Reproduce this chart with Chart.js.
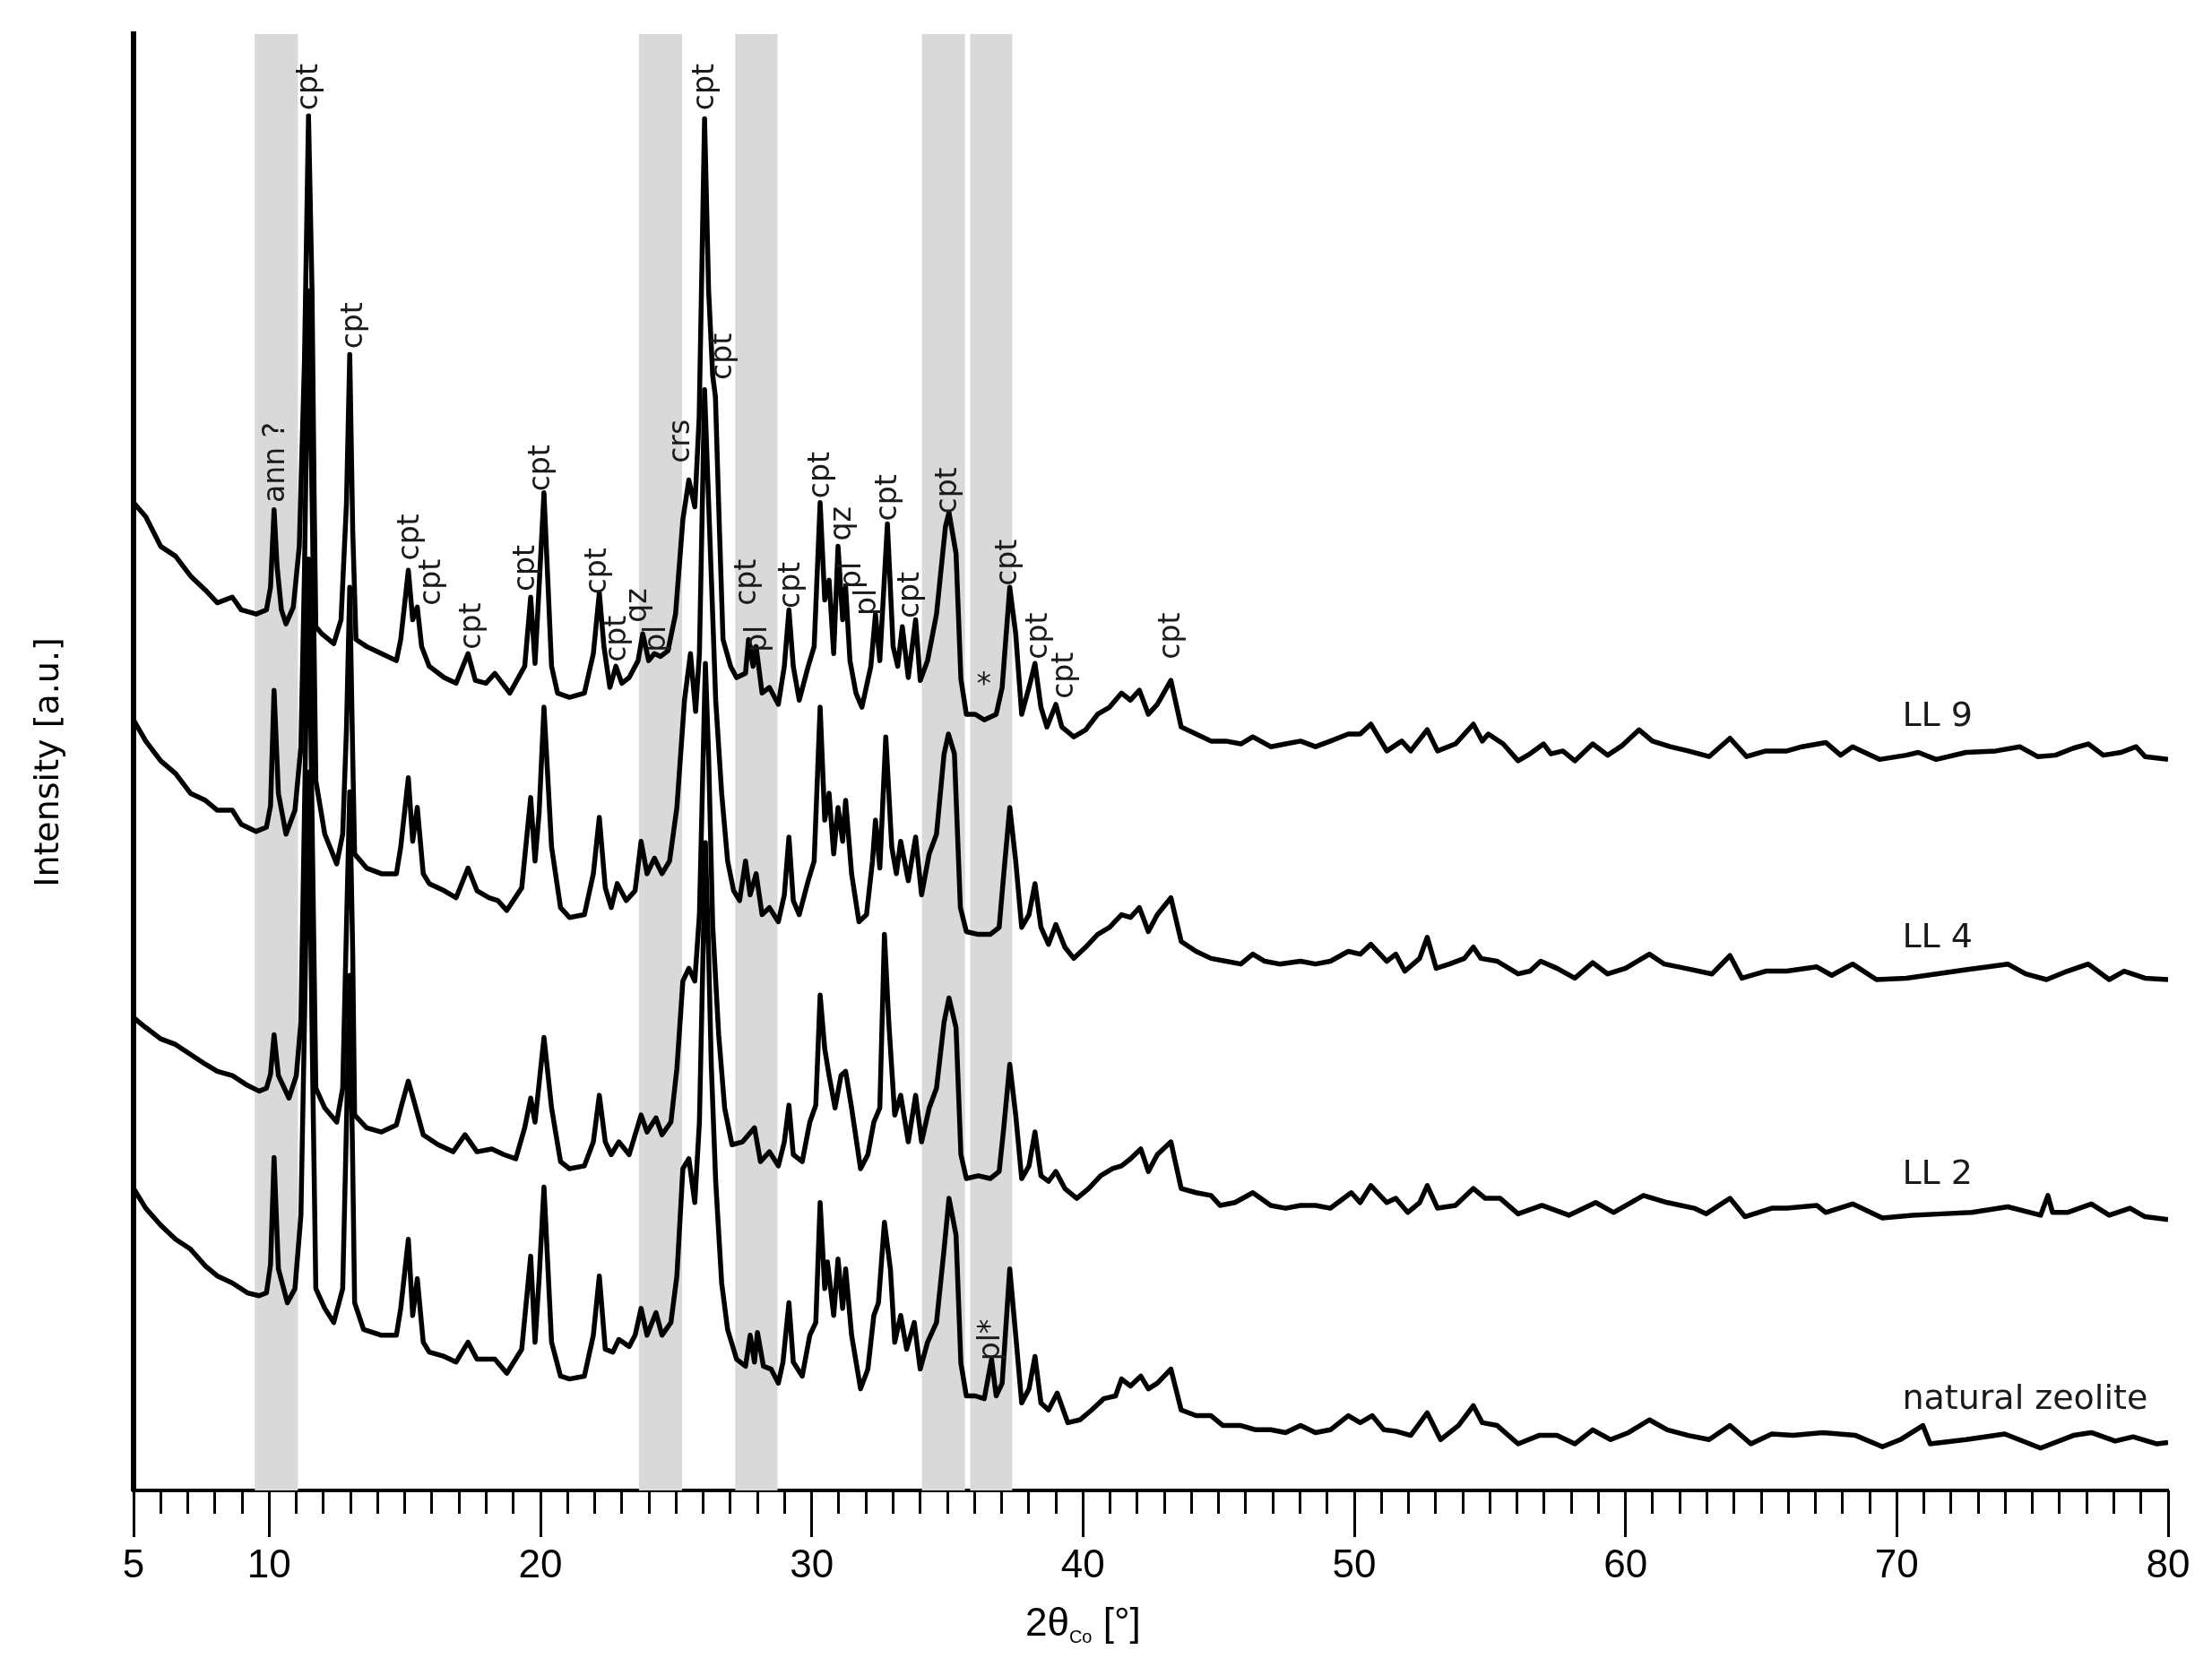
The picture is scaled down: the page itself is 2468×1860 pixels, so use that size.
<!DOCTYPE html>
<html>
<head>
<meta charset="utf-8">
<script src="https://cdn.jsdelivr.net/npm/chart.js@4.4.1/dist/chart.umd.min.js"></script>
<style>
  body { margin: 0; background: #fff; }
</style>
</head>
<body>
<canvas id="xrd" width="2468" height="1860" style="width:2468px;height:1860px"></canvas>
<script>
// 2theta (Co) / intensity (a.u., offset per sample)
const ll9 = [[5.0,700],[5.45,690],[6.0,669],[6.55,662],[7.1,648],[7.65,638],[8.09,629],[8.64,633],[8.97,624],[9.52,621],[9.9,624],[10.05,640],[10.18,695],[10.29,655],[10.45,624],[10.62,614],[10.89,626],[11.11,669],[11.3,800],[11.45,974],[11.58,850],[11.66,700],[11.72,612],[11.94,607],[12.38,600],[12.65,617],[12.85,700],[12.97,805],[13.08,680],[13.2,603],[13.59,598],[14.14,593],[14.69,588],[14.85,603],[15.13,652],[15.29,617],[15.46,626],[15.62,598],[15.9,584],[16.45,576],[16.89,572],[17.33,593],[17.6,574],[17.99,572],[18.32,579],[18.87,565],[19.42,584],[19.64,633],[19.8,586],[19.95,640],[20.13,707],[20.41,584],[20.63,565],[21.07,562],[21.62,565],[21.95,593],[22.17,636],[22.34,598],[22.56,569],[22.78,584],[23.0,572],[23.27,576],[23.6,588],[23.77,607],[23.99,588],[24.2,593],[24.43,591],[24.7,595],[24.98,621],[25.25,688],[25.47,716],[25.69,697],[25.85,760],[26.05,972],[26.2,850],[26.35,790],[26.45,775],[26.6,680],[26.73,603],[27.01,584],[27.23,576],[27.56,579],[27.67,603],[27.84,584],[27.95,598],[28.17,565],[28.44,569],[28.77,557],[28.99,584],[29.16,624],[29.32,584],[29.54,560],[29.87,584],[30.09,598],[30.31,700],[30.48,631],[30.64,645],[30.81,593],[30.97,669],[31.14,617],[31.25,640],[31.41,588],[31.63,565],[31.85,555],[32.18,584],[32.35,621],[32.51,588],[32.79,685],[33.0,598],[33.17,584],[33.34,612],[33.56,576],[33.83,617],[34.0,574],[34.27,588],[34.6,621],[34.93,683],[35.06,693],[35.32,664],[35.5,575],[35.7,550],[36.03,550],[36.36,546],[36.8,550],[37.02,569],[37.3,640],[37.52,607],[37.74,550],[38.01,569],[38.23,586],[38.45,555],[38.67,541],[39.0,557],[39.22,541],[39.66,534],[40.1,539],[40.54,550],[40.98,555],[41.42,565],[41.75,560],[42.08,567],[42.41,550],[42.74,557],[43.24,574],[43.62,541],[44.17,536],[44.72,531],[45.27,531],[45.82,529],[46.26,534],[46.92,527],[47.47,529],[48.02,531],[48.57,527],[49.12,531],[49.78,536],[50.22,536],[50.61,543],[51.2,524],[51.75,531],[52.08,524],[52.69,539],[53.07,524],[53.73,529],[54.39,543],[54.72,531],[54.94,536],[55.49,529],[56.04,517],[56.48,522],[56.98,529],[57.25,522],[57.69,524],[58.13,517],[58.79,529],[59.34,521],[59.89,528],[60.5,539],[60.99,531],[61.65,527],[62.31,524],[63.08,520],[63.85,533],[64.46,520],[65.17,524],[65.95,524],[66.5,527],[67.38,530],[67.93,521],[68.37,527],[69.36,518],[70.35,521],[70.79,523],[71.45,518],[72.55,523],[73.65,524],[74.53,527],[75.19,520],[75.85,521],[76.51,526],[77.06,529],[77.61,521],[78.27,523],[78.82,527],[79.15,520],[80.0,518]];

const ll4 = [[5.0,546],[5.45,531],[6.0,517],[6.55,508],[7.1,494],[7.65,489],[8.09,482],[8.64,482],[8.97,472],[9.52,467],[9.9,470],[10.05,485],[10.18,567],[10.34,494],[10.62,465],[10.95,482],[11.17,527],[11.3,650],[11.45,850],[11.6,680],[11.72,503],[12.05,465],[12.49,444],[12.71,465],[12.85,540],[12.97,640],[13.08,520],[13.15,451],[13.59,441],[14.14,437],[14.69,437],[14.85,456],[15.13,505],[15.29,460],[15.46,484],[15.68,437],[15.9,430],[16.45,425],[16.89,420],[17.33,441],[17.66,425],[18.1,420],[18.43,418],[18.76,411],[19.31,427],[19.64,491],[19.8,446],[19.95,480],[20.13,555],[20.41,456],[20.74,413],[21.07,406],[21.62,408],[21.95,437],[22.17,477],[22.39,427],[22.61,413],[22.83,430],[23.16,418],[23.49,425],[23.71,460],[23.93,437],[24.2,448],[24.48,437],[24.76,446],[25.03,484],[25.31,560],[25.53,593],[25.72,552],[25.86,593],[26.05,780],[26.2,700],[26.35,620],[26.46,560],[26.68,494],[26.9,446],[27.12,425],[27.34,418],[27.56,446],[27.73,422],[27.95,437],[28.17,408],[28.44,413],[28.77,403],[28.99,422],[29.16,463],[29.32,418],[29.54,408],[29.87,432],[30.09,446],[30.31,555],[30.48,475],[30.64,494],[30.81,451],[30.97,484],[31.14,460],[31.25,489],[31.47,437],[31.74,403],[32.02,408],[32.24,446],[32.35,475],[32.51,441],[32.73,534],[32.95,456],[33.12,437],[33.28,460],[33.56,432],[33.83,463],[34.05,422],[34.33,451],[34.6,465],[34.88,522],[35.04,536],[35.26,522],[35.48,413],[35.7,396],[36.14,394],[36.58,394],[36.91,399],[37.08,437],[37.3,484],[37.52,446],[37.74,399],[38.01,408],[38.23,430],[38.45,399],[38.73,387],[39.0,401],[39.33,385],[39.66,377],[40.1,385],[40.54,394],[40.98,399],[41.42,408],[41.75,406],[42.08,413],[42.41,396],[42.74,408],[43.24,420],[43.62,389],[44.17,382],[44.72,377],[45.27,375],[45.82,373],[46.26,380],[46.7,375],[47.25,373],[48.02,375],[48.57,373],[49.12,375],[49.78,382],[50.22,380],[50.61,387],[51.2,375],[51.53,380],[51.86,368],[52.41,377],[52.69,392],[53.02,370],[53.51,373],[54.06,377],[54.39,385],[54.67,377],[55.27,375],[56.04,366],[56.48,368],[56.87,375],[57.47,370],[58.13,363],[58.79,374],[59.34,366],[60.0,370],[60.88,380],[61.43,373],[62.2,370],[63.19,366],[63.85,379],[64.29,363],[65.17,368],[65.95,368],[67.05,371],[67.6,365],[68.37,373],[69.25,362],[70.35,363],[71.45,366],[72.55,369],[74.09,373],[74.75,366],[75.52,362],[76.29,368],[77.06,373],[77.83,362],[78.38,368],[79.15,363],[80.0,362]];

const ll2 = [[5.0,335],[5.45,328],[6.0,320],[6.55,316],[7.1,309],[7.65,302],[8.09,297],[8.64,294],[9.2,287],[9.63,283],[9.9,285],[10.05,295],[10.18,323],[10.34,294],[10.73,278],[11.0,294],[11.17,332],[11.3,480],[11.45,660],[11.6,450],[11.72,285],[12.05,271],[12.49,261],[12.71,285],[12.85,400],[12.97,495],[13.08,380],[13.15,266],[13.59,257],[14.14,254],[14.69,259],[14.91,275],[15.13,290],[15.35,275],[15.68,252],[16.23,245],[16.78,240],[17.22,252],[17.66,240],[18.21,242],[18.65,238],[19.09,235],[19.42,257],[19.64,278],[19.8,261],[20.13,321],[20.41,271],[20.74,233],[21.07,228],[21.62,230],[21.95,247],[22.17,280],[22.39,247],[22.61,238],[22.89,247],[23.27,238],[23.49,252],[23.71,266],[23.93,254],[24.26,264],[24.48,252],[24.81,261],[25.03,299],[25.25,361],[25.47,370],[25.69,361],[25.86,408],[26.08,586],[26.2,520],[26.35,400],[26.57,323],[26.79,271],[27.06,245],[27.45,247],[27.89,257],[28.11,233],[28.44,240],[28.77,230],[28.99,247],[29.16,273],[29.32,238],[29.65,233],[29.93,261],[30.15,273],[30.31,351],[30.48,313],[30.64,294],[30.86,271],[31.08,294],[31.25,297],[31.47,271],[31.8,228],[32.07,238],[32.29,261],[32.51,271],[32.68,394],[32.84,332],[33.06,266],[33.28,280],[33.56,247],[33.83,280],[34.05,247],[34.33,271],[34.6,285],[34.88,332],[35.06,349],[35.32,328],[35.5,238],[35.7,221],[36.14,223],[36.58,221],[36.91,226],[37.08,257],[37.3,302],[37.52,266],[37.74,221],[38.01,230],[38.23,254],[38.45,223],[38.73,219],[39.0,226],[39.33,214],[39.77,207],[40.21,214],[40.65,223],[41.09,228],[41.42,230],[41.75,235],[42.13,242],[42.41,226],[42.74,238],[43.24,247],[43.62,214],[44.17,211],[44.72,209],[45.05,202],[45.6,204],[46.26,211],[46.92,202],[47.47,200],[48.02,202],[48.57,202],[49.12,200],[49.89,211],[50.22,204],[50.61,216],[51.2,204],[51.53,207],[51.97,197],[52.41,204],[52.69,216],[53.07,200],[53.73,202],[54.39,214],[54.83,207],[55.38,207],[56.04,196],[56.92,202],[57.91,195],[58.9,204],[59.56,197],[60.66,209],[61.54,204],[62.53,200],[62.97,196],[63.85,207],[64.4,194],[65.39,200],[65.95,200],[67.05,202],[67.38,197],[68.37,203],[69.47,193],[70.57,195],[71.67,196],[72.77,197],[74.09,201],[75.3,195],[75.57,209],[75.74,197],[76.29,197],[77.17,203],[77.83,195],[78.6,200],[79.15,194],[80.0,192]];

const naturalZeolite = [[5.0,214],[5.45,200],[6.0,188],[6.55,178],[7.1,171],[7.65,159],[8.09,152],[8.64,147],[9.2,140],[9.63,138],[9.9,140],[10.05,160],[10.18,236],[10.34,157],[10.67,133],[10.95,143],[11.17,195],[11.3,330],[11.45,509],[11.6,300],[11.72,143],[12.05,129],[12.38,119],[12.71,143],[12.85,260],[12.97,365],[13.08,230],[13.15,133],[13.48,114],[14.14,110],[14.69,110],[14.85,129],[15.13,178],[15.29,124],[15.46,150],[15.68,105],[15.9,98],[16.45,95],[16.89,91],[17.33,105],[17.66,93],[18.32,93],[18.76,83],[19.31,100],[19.64,166],[19.8,105],[19.95,150],[20.13,215],[20.41,105],[20.74,81],[21.07,79],[21.62,81],[21.95,110],[22.17,152],[22.39,100],[22.67,98],[22.89,107],[23.27,102],[23.49,110],[23.71,129],[23.93,110],[24.26,126],[24.48,110],[24.81,119],[25.03,152],[25.25,228],[25.47,235],[25.69,204],[25.86,261],[26.08,459],[26.2,380],[26.3,300],[26.46,219],[26.68,147],[26.9,114],[27.23,93],[27.56,88],[27.73,110],[27.89,91],[28.0,112],[28.22,88],[28.5,86],[28.77,76],[28.94,91],[29.16,133],[29.32,91],[29.65,81],[29.93,110],[30.15,119],[30.31,204],[30.48,143],[30.58,162],[30.81,124],[30.97,164],[31.14,129],[31.25,157],[31.47,110],[31.8,72],[32.07,86],[32.29,124],[32.46,133],[32.68,190],[32.9,157],[33.06,105],[33.28,124],[33.5,100],[33.78,119],[34.0,86],[34.27,105],[34.6,119],[34.88,171],[35.06,207],[35.32,181],[35.5,90],[35.7,67],[36.03,67],[36.36,65],[36.63,93],[36.8,67],[37.02,76],[37.3,157],[37.52,110],[37.74,62],[38.01,72],[38.23,95],[38.45,62],[38.73,57],[39.05,69],[39.44,48],[39.88,50],[40.32,57],[40.76,65],[41.2,67],[41.42,79],[41.75,74],[42.13,81],[42.41,72],[42.74,76],[43.24,86],[43.62,57],[44.17,53],[44.72,53],[45.16,46],[45.82,46],[46.37,43],[46.92,43],[47.47,41],[48.02,46],[48.57,41],[49.12,43],[49.78,53],[50.22,48],[50.66,53],[51.09,43],[51.53,42],[52.08,39],[52.69,55],[53.18,36],[53.84,46],[54.39,60],[54.72,48],[55.27,46],[56.04,33],[56.81,39],[57.47,39],[58.13,33],[58.79,43],[59.45,36],[60.11,41],[60.88,50],[61.54,43],[62.31,39],[63.08,36],[63.85,46],[64.62,33],[65.39,40],[66.17,39],[67.27,41],[68.48,39],[69.47,31],[70.13,36],[70.96,46],[71.23,33],[72.55,36],[73.98,40],[75.3,30],[76.51,39],[77.17,41],[78.05,35],[78.71,38],[79.59,33],[80.0,34]];

const sampleNames = ["LL 9", "LL 4", "LL 2", "natural zeolite"];
const sampleNameLevel = [542, 385, 217, 58];
const sampleNameTheta = 70.2;

// shaded 2theta windows
const bandStart = [9.47, 23.63, 27.18, 34.06, 35.84];
const bandEnd = [11.06, 25.22, 28.74, 35.65, 37.39];

// phase labels: text, 2theta, level where the text starts
const peakLabels = [
  ["ann ?", 10.27, 698], ["cpt", 11.48, 976], ["cpt", 13.13, 807],
  ["cpt", 15.23, 657], ["cpt", 16.03, 625], ["cpt", 17.51, 594],
  ["cpt", 19.47, 635], ["cpt", 20.04, 706], ["cpt", 22.14, 633],
  ["cpt", 22.84, 585], ["qz", 23.6, 613], ["pl", 24.3, 592],
  ["crs", 25.2, 726], ["cpt", 26.1, 976], ["cpt", 26.77, 785],
  ["cpt", 27.66, 625], ["pl", 28.05, 592], ["cpt", 29.28, 623],
  ["cpt", 30.37, 701], ["qz", 31.15, 671], ["pl", 31.52, 637],
  ["pl", 32.06, 618], ["cpt", 32.82, 685], ["cpt", 33.66, 616],
  ["cpt", 35.04, 690], ["cpt", 37.27, 639], ["cpt", 38.37, 587],
  ["cpt", 39.33, 559], ["cpt", 43.28, 587], ["pl*", 36.63, 90]
];
const starLabels = [[36.35, 570]];

const majorTicks = [5, 10, 20, 30, 40, 50, 60, 70, 80];

const ctx = document.getElementById("xrd").getContext("2d");

const bandsPlugin = {
  id: "bands",
  beforeDatasetsDraw(chart) {
    const { ctx, chartArea, scales } = chart;
    ctx.save();
    ctx.fillStyle = "#d9d9d9";
    bandStart.forEach((s, i) => {
      const x0 = scales.x.getPixelForValue(s);
      const x1 = scales.x.getPixelForValue(bandEnd[i]);
      ctx.fillRect(x0, chartArea.top, x1 - x0, chartArea.bottom - chartArea.top);
    });
    ctx.restore();
  },
};

const textPlugin = {
  id: "texts",
  afterDraw(chart) {
    const { ctx, chartArea, scales } = chart;
    const xs = scales.x, ys = scales.y;
    ctx.save();
    ctx.fillStyle = "#1a1a1a";

    ctx.font = '33px "DejaVu Sans"';
    ctx.textAlign = "left";
    ctx.textBaseline = "middle";
    peakLabels.forEach(([t, th, lv]) => {
      ctx.save();
      ctx.translate(xs.getPixelForValue(th), ys.getPixelForValue(lv));
      ctx.rotate(-Math.PI / 2);
      ctx.fillText(t, 3, 0);
      ctx.restore();
    });
    ctx.textAlign = "center";
    starLabels.forEach(([th, lv]) => {
      ctx.fillText("*", xs.getPixelForValue(th), ys.getPixelForValue(lv));
    });

    ctx.font = '38px "DejaVu Sans"';
    ctx.textAlign = "left";
    ctx.textBaseline = "alphabetic";
    sampleNames.forEach((n, i) => {
      ctx.fillText(n, xs.getPixelForValue(sampleNameTheta), ys.getPixelForValue(sampleNameLevel[i]));
    });

    // x axis title with subscript
    ctx.fillStyle = "#000";
    const fam = '"Liberation Sans Narrow", "Liberation Sans"';
    const big = "44px " + fam, small = "20px " + fam;
    ctx.font = big;
    const w1 = ctx.measureText("2θ").width, w3 = ctx.measureText(" [°]").width;
    ctx.font = small;
    const w2 = ctx.measureText("Co").width;
    let tx = xs.getPixelForValue(40) - (w1 + w2 + w3) / 2;
    const base = chartArea.bottom + 162;
    ctx.font = big;
    ctx.fillText("2θ", tx, base);
    tx += w1;
    ctx.font = small;
    ctx.fillText("Co", tx, base + 8);
    tx += w2;
    ctx.font = big;
    ctx.fillText(" [°]", tx, base);
    ctx.restore();
  },
};

const trace = (data) => ({
  data: data.map(([x, y]) => ({ x, y })),
  borderColor: "#000",
  borderWidth: 5.5,
  borderJoinStyle: "round",
  pointRadius: 0,
  tension: 0,
  fill: false,
});

new Chart(ctx, {
  type: "line",
  data: {
    datasets: [trace(ll9), trace(ll4), trace(ll2), trace(naturalZeolite)],
  },
  options: {
    responsive: false,
    animation: false,
    devicePixelRatio: 1,
    layout: { padding: { left: 0, right: 49, top: 38, bottom: 0 } },
    plugins: { legend: { display: false }, tooltip: { enabled: false } },
    scales: {
      x: {
        type: "linear",
        position: "bottom",
        min: 5,
        max: 80,
        ticks: { display: false, stepSize: 1, autoSkip: false },
        grid: { drawOnChartArea: false, tickLength: 26, tickWidth: 3, tickColor: "#000" },
        border: { display: true, color: "#000", width: 4 },
        afterFit: (s) => { s.height = 0; },
      },
      x2: {
        type: "linear",
        position: "bottom",
        min: 5,
        max: 80,
        afterBuildTicks: (s) => { s.ticks = majorTicks.map((v) => ({ value: v })); },
        ticks: {
          autoSkip: false,
          maxRotation: 0,
          color: "#000",
          padding: 6,
          font: { family: '"Liberation Sans Narrow", "Liberation Sans"', size: 44 },
        },
        grid: { drawOnChartArea: false, tickLength: 52, tickWidth: 3, tickColor: "#000" },
        border: { display: false },
        afterFit: (s) => { s.height = 197; },
      },
      y: {
        type: "linear",
        min: 0,
        max: 1032,
        ticks: { display: false },
        grid: { display: false, drawTicks: false },
        border: { display: true, color: "#000", width: 6 },
        title: {
          display: true,
          text: "Intensity [a.u.]",
          color: "#000",
          font: { family: "DejaVu Sans", size: 38 },
          padding: { top: 32, bottom: 0 },
        },
        afterFit: (s) => { s.width = 149; },
      },
    },
  },
  plugins: [bandsPlugin, textPlugin],
});
</script>
</body>
</html>
